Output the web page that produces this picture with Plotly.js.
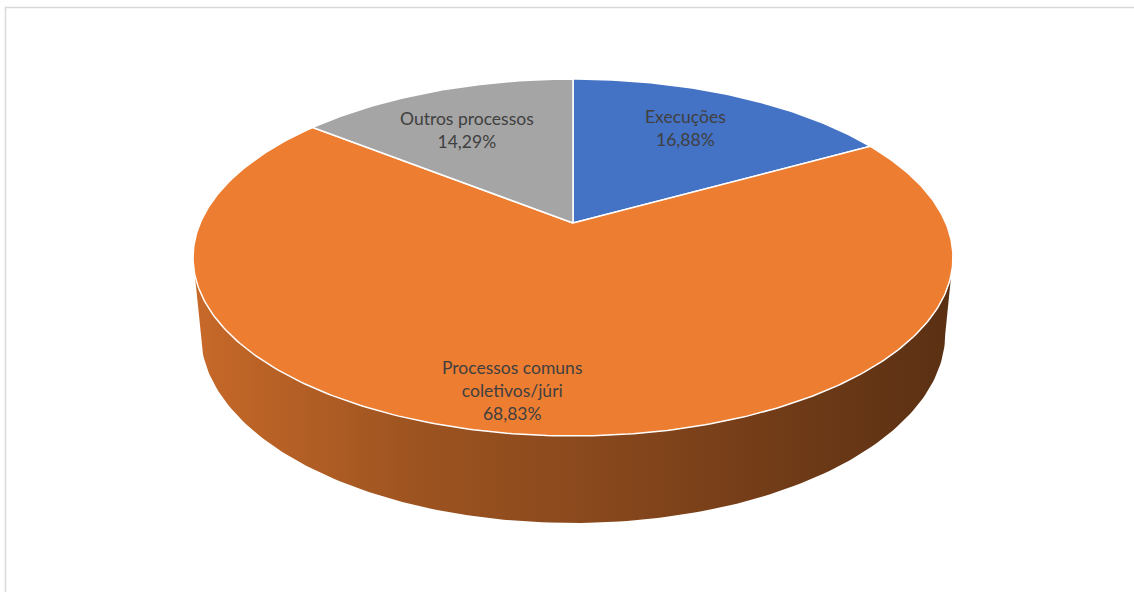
<!DOCTYPE html>
<html>
<head>
<meta charset="utf-8">
<script src="https://cdn.plot.ly/plotly-3.0.1.min.js"></script>
<style>html,body{margin:0;padding:0;background:#fff;}#chart{width:1134px;height:592px;}</style>
</head>
<body>
<div id="chart"></div>
<script>
// ---- data ----
const categories = ["Execuções", "Processos comuns coletivos/júri", "Outros processos"];
const percentages = [16.88, 68.83, 14.29];
const sliceColors = ["#4472C4", "#ED7D31", "#A5A5A5"];

// ---- layout / projection constants (3D tilted disk with perspective) ----
const W = 1134, H = 592;
const CX = 573, CY = 223;      // projected centre of top face
const RA = 372.8, RB = 171.8;  // horizontal / depth radii
const K = 0.1933;              // perspective factor (depth)
const KH = 0.02;               // perspective factor (height)
const DEPTH = 76.2;            // side thickness
const labelPos = [[685, 128], [512, 390], [467, 130]];
const labelFont = {family: "Lato, 'Noto Sans', sans-serif", size: 17.5, color: "#404040"};

function proj(phi, r, h) {
  const u = r * Math.sin(phi), v = r * Math.cos(phi);
  const w = 1 + K * v + KH * h;
  return [CX + RA * u / w, CY + (-RB * v + DEPTH * h) / w];
}
function shade(hex, f) {
  const n = parseInt(hex.slice(1), 16);
  const r = Math.round(((n >> 16) & 255) * f), g = Math.round(((n >> 8) & 255) * f), b = Math.round((n & 255) * f);
  return `rgb(${r},${g},${b})`;
}
function wrap(s, max) {
  const words = s.split(" "); const lines = []; let cur = "";
  words.forEach(wd => { if (cur && (cur + " " + wd).length > max) { lines.push(cur); cur = wd; } else { cur = cur ? cur + " " + wd : wd; } });
  if (cur) lines.push(cur);
  return lines.join("<br>");
}

const total = percentages.reduce((a, b) => a + b, 0);
const bounds = []; let acc = 0;
percentages.forEach(p => { const a0 = acc / total * 2 * Math.PI; acc += p; bounds.push([a0, acc / total * 2 * Math.PI]); });

const traces = [];
// side walls (visible front part only)
const visA = Math.acos(-K), visB = 2 * Math.PI - Math.acos(-K);
bounds.forEach((b, i) => {
  const a0 = Math.max(b[0], visA), a1 = Math.min(b[1], visB);
  if (a1 <= a0) return;
  const xs = [], ys = []; const n = 160;
  for (let j = 0; j <= n; j++) { const p = proj(a0 + (a1 - a0) * j / n, 1, 0); xs.push(p[0]); ys.push(p[1]); }
  for (let j = n; j >= 0; j--) { const p = proj(a0 + (a1 - a0) * j / n, 1, 1); xs.push(p[0]); ys.push(p[1]); }
  traces.push({
    type: "scatter", mode: "lines", x: xs, y: ys, fill: "toself",
    line: {width: 0, color: "rgba(0,0,0,0)"},
    fillgradient: {type: "horizontal", colorscale: [
      [0, shade(sliceColors[i], 0.84)], [0.3, shade(sliceColors[i], 0.66)],
      [0.55, shade(sliceColors[i], 0.57)], [1, shade(sliceColors[i], 0.38)]]},
    hoverinfo: "skip", showlegend: false
  });
});
// top face slices
bounds.forEach((b, i) => {
  const xs = [CX], ys = [CY]; const n = Math.max(20, Math.round((b[1] - b[0]) * 80));
  for (let j = 0; j <= n; j++) { const p = proj(b[0] + (b[1] - b[0]) * j / n, 1, 0); xs.push(p[0]); ys.push(p[1]); }
  xs.push(CX); ys.push(CY);
  traces.push({
    type: "scatter", mode: "lines", x: xs, y: ys, fill: "toself",
    fillcolor: sliceColors[i], line: {color: "#ffffff", width: 1.5},
    hoverinfo: "skip", showlegend: false
  });
});

const annotations = categories.map((c, i) => ({
  x: labelPos[i][0], y: labelPos[i][1], xref: "x", yref: "y",
  text: wrap(c, 16) + "<br>" + percentages[i].toFixed(2).replace(".", ",") + "%",
  showarrow: false, font: labelFont, align: "center", xanchor: "center", yanchor: "middle"
}));

const layout = {
  width: W, height: H, margin: {l: 0, r: 0, t: 0, b: 0},
  paper_bgcolor: "#ffffff", plot_bgcolor: "#ffffff",
  xaxis: {range: [0, W], visible: false, fixedrange: true},
  yaxis: {range: [H, 0], visible: false, fixedrange: true},
  showlegend: false, hovermode: false,
  annotations: annotations,
  shapes: [{type: "rect", xref: "paper", yref: "paper", x0: 5.5 / W, x1: 1.01, y0: -0.01, y1: 1 - 7.5 / H,
            line: {color: "#d9d9d9", width: 1.5}, fillcolor: "rgba(0,0,0,0)", layer: "below"}]
};
Plotly.newPlot("chart", traces, layout, {displayModeBar: false, staticPlot: true});
</script>
</body>
</html>
